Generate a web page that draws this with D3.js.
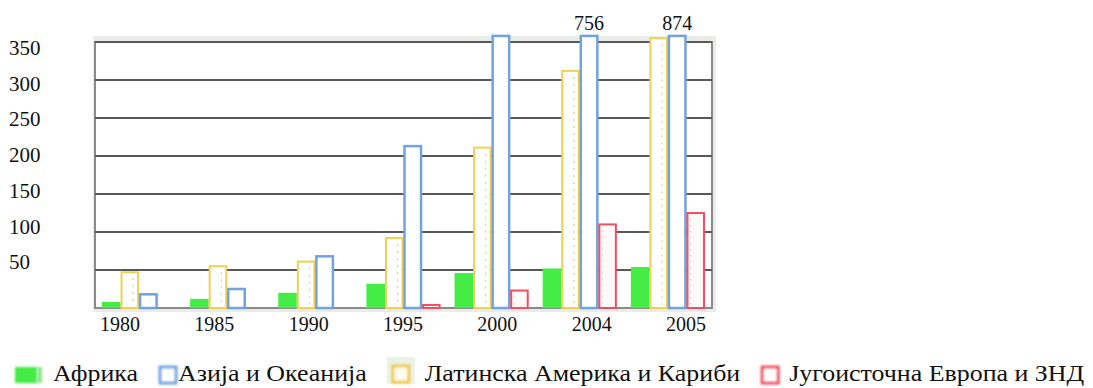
<!DOCTYPE html>
<html>
<head>
<meta charset="utf-8">
<script src="https://cdn.jsdelivr.net/npm/d3@7"></script>
<style>
  html, body { margin: 0; padding: 0; background: #fff; }
  svg { display: block; font-family: "Liberation Serif", "Times New Roman", serif; }
</style>
</head>
<body>
<svg id="chart" width="1093" height="388"></svg>
<script>
// Years shown on the horizontal axis, one group of bars per year
const years = ["1980", "1985", "1990", "1995", "2000", "2004", "2005"];

// Series values per region (same order as years)
const africa       = [8, 12, 20, 32, 46, 52, 54];
const asiaOceania  = [18, 25, 68, 213, 420, 756, 874];
const latinAmerica = [47, 55, 61, 92, 211, 312, 355];
const seEurope     = [0, 0, 0, 4, 23, 110, 125];

// Region names for the legend
const seriesNames = ["Африка", "Азија и Океанија", "Латинска Америка и Кариби", "Југоисточна Европа и ЗНД"];

// Gridline / y tick values
const yTicks = [50, 100, 150, 200, 250, 300, 350];

// Bars whose value runs off the top get their value printed above the frame
const printedValues = [
  { year: "2004", key: "asia" },
  { year: "2005", key: "asia" }
];

// legend order
const series = [
  { key: "africa", name: seriesNames[0], values: africa },
  { key: "asia",   name: seriesNames[1], values: asiaOceania },
  { key: "latam",  name: seriesNames[2], values: latinAmerica },
  { key: "see",    name: seriesNames[3], values: seEurope }
];
// order of the bars inside each year group
const barOrder = ["africa", "latam", "asia", "see"];

const style = {
  africa: { fill: "#44ec44", stroke: "none" },
  asia:   { fill: "#ffffff", stroke: "#6fa3df" },
  latam:  { fill: "#ffffff", stroke: "#f1cf55" },
  see:    { fill: "#fffafa", stroke: "#ef4f62" }
};

const svg = d3.select("#chart");

const plot = { left: 95, right: 712, top: 42, bottom: 308 };
const clipValue = 358;   // bars taller than this are cut at the top

const x0 = d3.scaleBand().domain(years).range([plot.left, plot.right]).padding(0);
const x1 = d3.scaleBand().domain(barOrder).range([7, x0.bandwidth() - 7]).padding(0);
const y = d3.scaleLinear().domain([0, 350]).range([plot.bottom, plot.top]);

// tick labels sit on their own slightly tighter ladders
const yLabel = d3.scaleLinear().domain([50, 350]).range([262, 47.5]);
const xLabel = d3.scalePoint().domain(years).range([120, 686]);

const defs = svg.append("defs");
defs.append("filter").attr("id", "soft")
  .attr("x", "-5%").attr("y", "-5%").attr("width", "110%").attr("height", "110%")
  .append("feGaussianBlur").attr("stdDeviation", 0.6);
defs.append("filter").attr("id", "softer")
  .attr("x", "-30%").attr("y", "-30%").attr("width", "160%").attr("height", "160%")
  .append("feGaussianBlur").attr("stdDeviation", 0.9);

const chart = svg.append("g").attr("filter", "url(#soft)");

// outer pale frame and white plotting area
chart.append("rect")
  .attr("x", plot.left - 2).attr("y", plot.top - 6)
  .attr("width", plot.right - plot.left + 6).attr("height", plot.bottom - plot.top + 10)
  .attr("fill", "#e8ede8");
chart.append("rect")
  .attr("x", plot.left).attr("y", plot.top)
  .attr("width", plot.right - plot.left).attr("height", plot.bottom - plot.top)
  .attr("fill", "#ffffff").attr("stroke", "#8a8a8a").attr("stroke-width", 2);

// horizontal gridlines
chart.append("g").selectAll("line").data(yTicks).join("line")
  .attr("x1", plot.left).attr("x2", plot.right)
  .attr("y1", d => y(d)).attr("y2", d => y(d))
  .attr("stroke", "#595959").attr("stroke-width", 2.2);

// bars
const byKey = Object.fromEntries(series.map(s => [s.key, s]));
const rows = years.map((yr, i) => ({
  year: yr,
  items: barOrder.map(k => ({ key: k, year: yr, value: byKey[k].values[i] }))
}));

const groups = chart.append("g").selectAll("g").data(rows).join("g")
  .attr("transform", d => `translate(${x0(d.year)},0)`);

const bars = groups.selectAll("g.bar").data(d => d.items.filter(it => it.value > 0)).join("g").attr("class", "bar");

bars.append("rect")
  .attr("x", d => x1(d.key) + (d.key === "africa" ? 0 : 1))
  .attr("width", d => x1.bandwidth() - (d.key === "africa" ? 0 : 2))
  .attr("y", d => y(Math.min(d.value, clipValue)))
  .attr("height", d => plot.bottom - y(Math.min(d.value, clipValue)))
  .attr("fill", d => style[d.key].fill)
  .attr("stroke", d => style[d.key].stroke)
  .attr("stroke-width", d => d.key === "asia" ? 2.5 : 2);

// dotted inner rule on the Latin America bars
bars.filter(d => d.key === "latam").append("line")
  .attr("x1", d => x1(d.key) + x1.bandwidth() * 0.68)
  .attr("x2", d => x1(d.key) + x1.bandwidth() * 0.68)
  .attr("y1", d => y(Math.min(d.value, clipValue)) + 6)
  .attr("y2", plot.bottom - 2)
  .attr("stroke", "#f0d35a").attr("stroke-width", 1.2)
  .attr("stroke-dasharray", "2,5");

// dotted inner rule on the south-east Europe bars
bars.filter(d => d.key === "see" && d.value > 20).append("line")
  .attr("x1", d => x1(d.key) + 4).attr("x2", d => x1(d.key) + 4)
  .attr("y1", d => y(Math.min(d.value, clipValue)) + 6)
  .attr("y2", plot.bottom - 3)
  .attr("stroke", "#f6a0aa").attr("stroke-width", 1)
  .attr("stroke-dasharray", "1,5");

// y tick labels
svg.append("g").selectAll("text").data(yTicks).join("text")
  .attr("x", 9).attr("y", d => yLabel(d)).attr("dy", "0.35em")
  .attr("font-size", 21).attr("fill", "#111")
  .text(d => d);

// x tick labels
svg.append("g").selectAll("text").data(years).join("text")
  .attr("x", d => xLabel(d)).attr("y", 331)
  .attr("text-anchor", "middle").attr("font-size", 20).attr("fill", "#111")
  .text(d => d);

// values printed above the frame for the tallest bars
svg.append("g").selectAll("text").data(printedValues).join("text")
  .attr("x", d => x0(d.year) + x1(d.key) + x1.bandwidth() / 2)
  .attr("y", 30).attr("text-anchor", "middle")
  .attr("font-size", 20).attr("fill", "#111")
  .text(d => byKey[d.key].values[years.indexOf(d.year)]);

// legend: swatch, then a slightly widened serif label
const legend = svg.append("g");
const stretch = 1.08;
let lx = 15;
series.forEach(s => {
  const g = legend.append("g").attr("transform", `translate(${lx},0)`);
  if (s.key === "africa") {
    g.append("rect").attr("x", 0).attr("y", 367).attr("width", 22).attr("height", 16)
      .attr("fill", style.africa.fill).attr("filter", "url(#softer)");
    g.append("rect").attr("x", 22).attr("y", 367).attr("width", 5).attr("height", 16)
      .attr("fill", "#8fe88f").attr("filter", "url(#softer)");
  } else if (s.key === "asia") {
    g.append("rect").attr("x", 2).attr("y", 367).attr("width", 16).attr("height", 16)
      .attr("fill", "#fff").attr("stroke", style.asia.stroke).attr("stroke-width", 3)
      .attr("filter", "url(#softer)");
  } else if (s.key === "latam") {
    g.append("rect").attr("x", 0).attr("y", 357).attr("width", 28).attr("height", 27)
      .attr("fill", "#ecf3e6");
    g.append("rect").attr("x", 6).attr("y", 366).attr("width", 16).attr("height", 16)
      .attr("fill", "#fffdf2").attr("stroke", "#f0c94e").attr("stroke-width", 3)
      .attr("filter", "url(#softer)");
  } else {
    g.append("rect").attr("x", 2).attr("y", 367).attr("width", 16).attr("height", 16)
      .attr("fill", "#fff").attr("stroke", style.see.stroke).attr("stroke-width", 3)
      .attr("filter", "url(#softer)");
  }
  const textX = s.key === "asia" ? 20 : (s.key === "see" ? 29 : 38);
  const t = g.append("text")
    .attr("transform", `translate(${textX},381) scale(${stretch},1)`)
    .attr("font-size", 24).attr("fill", "#111").text(s.name);
  lx += textX + t.node().getComputedTextLength() * stretch + 20;
});
</script>
</body>
</html>
